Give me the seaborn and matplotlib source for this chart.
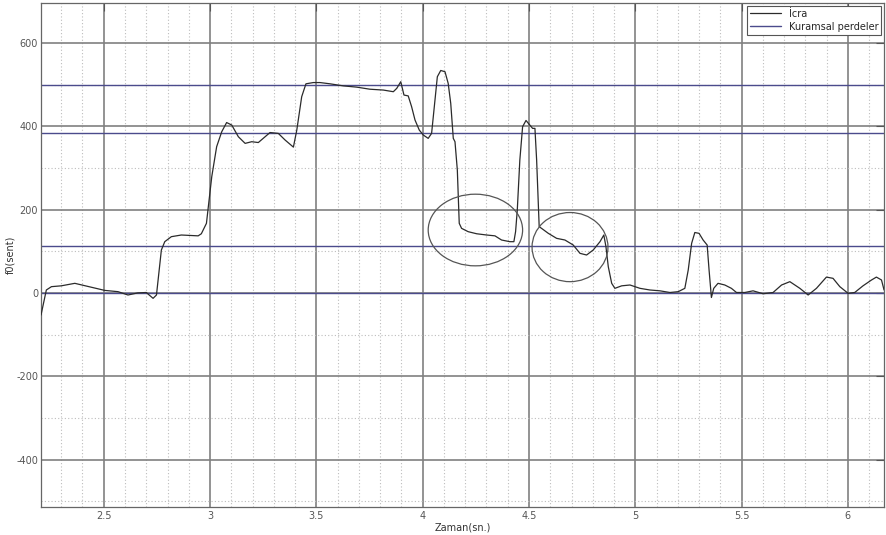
import numpy as np
import pandas as pd
import matplotlib
matplotlib.use("Agg")
import matplotlib.pyplot as plt
from matplotlib.patches import Ellipse
from matplotlib.lines import Line2D
from matplotlib.ticker import MultipleLocator
import seaborn as sns

# ==========================================
# Data
# ==========================================
zaman = [2.205, 2.23, 2.254, 2.30, 2.364, 2.43, 2.505, 2.567, 2.614, 2.66, 2.70, 2.732, 2.748,
         2.771, 2.787, 2.818, 2.865, 2.944, 2.959, 2.983, 3.008, 3.031, 3.055, 3.078, 3.102,
         3.133, 3.165, 3.196, 3.227, 3.259, 3.282, 3.321, 3.353, 3.392, 3.408, 3.431, 3.451,
         3.486, 3.517, 3.564, 3.627, 3.69, 3.752, 3.815, 3.862, 3.878, 3.897, 3.912, 3.932,
         3.948, 3.964, 3.984, 4.003, 4.026, 4.042, 4.058, 4.069, 4.085, 4.105, 4.12, 4.132,
         4.144, 4.152, 4.163, 4.172, 4.183, 4.214, 4.254, 4.301, 4.34, 4.371, 4.41, 4.429,
         4.437, 4.445, 4.457, 4.47, 4.486, 4.504, 4.517, 4.528, 4.536, 4.548, 4.559, 4.591,
         4.63, 4.669, 4.708, 4.74, 4.771, 4.802, 4.834, 4.852, 4.862, 4.873, 4.889, 4.904,
         4.936, 4.975, 5.022, 5.069, 5.116, 5.163, 5.202, 5.233, 5.249, 5.265, 5.28, 5.30,
         5.319, 5.338, 5.347, 5.358, 5.369, 5.389, 5.421, 5.452, 5.476, 5.515, 5.554, 5.601,
         5.648, 5.688, 5.727, 5.774, 5.813, 5.852, 5.899, 5.93, 5.962, 6.001, 6.032, 6.071,
         6.111, 6.134, 6.158, 6.17]
f0 = [-53, 7, 15, 17, 23, 15, 6, 3, -5, 0, 1, -13, -5,
      103, 123, 135, 139, 137, 142, 167, 279, 351, 387, 409, 403,
      375, 359, 363, 361, 375, 385, 383, 367, 350, 391, 471, 502,
      505, 505, 502, 497, 494, 489, 487, 483, 491, 507, 475, 473,
      447, 415, 391, 379, 371, 383, 463, 519, 534, 531, 503, 455,
      371, 363, 295, 167, 155, 147, 142, 139, 137, 127, 123, 123,
      147, 199, 319, 399, 414, 403, 395, 395, 319, 159, 155, 143,
      131, 127, 115, 95, 91, 103, 123, 139, 111, 63, 23, 11,
      17, 19, 11, 7, 5, 1, 3, 11, 55, 119, 145, 143,
      127, 115, 55, -11, 11, 23, 19, 11, 1, 1, 5, -2,
      1, 19, 27, 11, -5, 11, 38, 35, 15, -1, 1, 17,
      31, 38, 31, 7]

# theoretical pitches (cents)
perdeler = [0, 113.2, 384.4, 498.0]

# circled regions: centre x, centre y, width, height
daire_x = [4.248, 4.693]
daire_y = [151, 110]
daire_w = [0.444, 0.357]
daire_h = [172, 166]

x_ticks = [2.5, 3, 3.5, 4, 4.5, 5, 5.5, 6]
x_tick_labels = ["2.5", "3", "3.5", "4", "4.5", "5", "5.5", "6"]

df = pd.DataFrame({"Zaman": zaman, "f0": f0})

# ==========================================
# Plot
# ==========================================
sns.set_style("white")
plt.rcParams["axes.unicode_minus"] = False
fig = plt.figure(figsize=(8.86, 5.35), dpi=100)
ax = fig.add_axes([0.0463, 0.0523, 0.9515, 0.9421])

ax.xaxis.set_major_locator(MultipleLocator(0.5))
ax.xaxis.set_minor_locator(MultipleLocator(0.1))
ax.yaxis.set_major_locator(MultipleLocator(200))
ax.yaxis.set_minor_locator(MultipleLocator(100))
ax.grid(True, which="major", color="#808080", linewidth=1.2, linestyle="-")
ax.grid(True, which="minor", color="#bdbdbd", linewidth=0.8, linestyle=(0, (1, 2)))
ax.set_axisbelow(True)

for p in perdeler:
    ax.axhline(p, color="#4b4b8c", linewidth=1.0, zorder=2)

sns.lineplot(data=df, x="Zaman", y="f0", ax=ax, color="#2b2b2b", linewidth=0.9,
             estimator=None, sort=False, zorder=3)

# hand-drawn circles around the regions of interest
for cx, cy, w, h in zip(daire_x, daire_y, daire_w, daire_h):
    ax.add_patch(Ellipse((cx, cy), w, h, fill=False, edgecolor="#555555", linewidth=0.9, zorder=4))

ax.set_xlim(2.205, 6.17)
ax.set_ylim(-514, 696)
ax.set_xticks(x_ticks)
ax.set_xticklabels(x_tick_labels)
ax.tick_params(which="major", direction="in", length=6, labelsize=7, colors="#555555",
               top=True, right=True)
ax.tick_params(axis="x", pad=3)
ax.tick_params(axis="y", pad=2)
ax.tick_params(which="minor", length=0)
for s in ax.spines.values():
    s.set_color("#666666")
    s.set_linewidth(0.9)

ax.set_xlabel("Zaman(sn.)", fontsize=7, color="#333333", labelpad=1)
ax.set_ylabel("f0(sent)", fontsize=7, color="#333333", labelpad=1)

handles = [Line2D([], [], color="#2b2b2b", linewidth=0.9),
           Line2D([], [], color="#4b4b8c", linewidth=1.0)]
leg = ax.legend(handles, ["İcra", "Kuramsal perdeler"], loc="upper right", fontsize=7,
                fancybox=False, framealpha=1, edgecolor="#555555", handlelength=3.2,
                borderaxespad=0.3, labelspacing=0.3, borderpad=0.3)
leg.get_frame().set_linewidth(0.8)

plt.savefig("out.png", dpi=100)
